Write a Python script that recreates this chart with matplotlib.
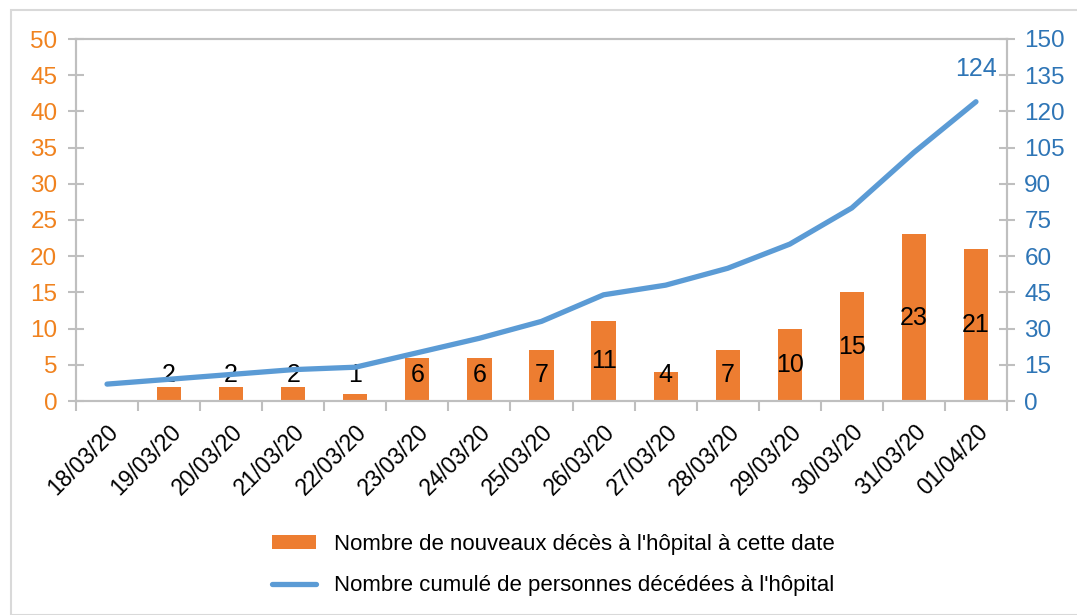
import matplotlib
matplotlib.use("Agg")
import matplotlib.pyplot as plt
from matplotlib.patches import Rectangle
import numpy as np

dates = ["18/03/20", "19/03/20", "20/03/20", "21/03/20", "22/03/20", "23/03/20",
         "24/03/20", "25/03/20", "26/03/20", "27/03/20", "28/03/20", "29/03/20",
         "30/03/20", "31/03/20", "01/04/20"]
new_deaths = [0, 2, 2, 2, 1, 6, 6, 7, 11, 4, 7, 10, 15, 23, 21]
cumulative = [7, 9, 11, 13, 14, 20, 26, 33, 44, 48, 55, 65, 80, 103, 124]
left_ticks = list(range(0, 51, 5))
right_ticks = list(range(0, 151, 15))

bar_label = "Nombre de nouveaux décès à l'hôpital à cette date"
line_label = "Nombre cumulé de personnes décédées à l'hôpital"

FONT = ['Liberation Sans', 'DejaVu Sans']
plt.rcParams['font.family'] = FONT

ORANGE = '#ED7D31'
BLUE = '#5B9BD5'
ORANGE_TXT = '#F0821E'
BLUE_TXT = '#2E75B6'
GRAY = '#BFBFBF'

fig = plt.figure(figsize=(10.77, 6.15), dpi=100)
W, H = 1077, 615
ax = fig.add_axes([76 / W, 1 - 401 / H, (1007 - 76) / W, (401 - 39) / H])
ax2 = ax.twinx()

fig.patches.append(Rectangle((11 / W, 0), 1.0, 1 - 10 / H, transform=fig.transFigure,
                             fill=False, edgecolor='#D9D9D9', linewidth=1.5))

x = np.arange(len(dates))
bars = ax.bar(x, new_deaths, width=0.39, color=ORANGE, zorder=2, label=bar_label)
line, = ax2.plot(x, cumulative, color=BLUE, linewidth=3.8, solid_capstyle='round',
                 zorder=3, label=line_label)

ax.set_xlim(-0.5, len(dates) - 0.5)
ax.set_ylim(0, 50)
ax2.set_ylim(0, 150)
ax.set_yticks(left_ticks)
ax2.set_yticks(right_ticks)

for a in (ax, ax2):
    for s in a.spines.values():
        s.set_color(GRAY)
        s.set_linewidth(1.5)
ax2.set_zorder(ax.get_zorder() + 1)
ax2.patch.set_visible(False)

ax.tick_params(axis='y', direction='inout', length=11, width=1.5, color=GRAY,
               labelcolor=ORANGE_TXT, labelsize=17.5, pad=8)
ax2.tick_params(axis='y', direction='inout', length=11, width=1.5, color=GRAY,
                labelcolor=BLUE_TXT, labelsize=17.5, pad=7)

ax.set_xticks(x)
ax.set_xticklabels(dates, rotation=45, ha='right', rotation_mode='anchor', fontsize=16.5)
ax.set_xticks(np.arange(-0.5, len(dates), 1.0), minor=True)
ax.tick_params(axis='x', which='major', length=0, pad=14)
ax.tick_params(axis='x', which='minor', direction='out', length=7, width=1.5, color=GRAY)

for xi, v in zip(x, new_deaths):
    if v > 0:
        ax.text(xi, max(v / 2, 3.6), str(v), ha='center', va='center', fontsize=18,
                color='black', zorder=5)

ax2.annotate(str(cumulative[-1]), (x[-1], cumulative[-1]), xytext=(0, 15),
             textcoords='offset points', ha='center', va='bottom', fontsize=18,
             color=BLUE_TXT)

fig.legend(handles=[bars, line], labels=[bar_label, line_label], loc='upper center',
           bbox_to_anchor=(553 / W, 1 - 514 / H), frameon=False, fontsize=16,
           handlelength=2.0, handleheight=0.6, handletextpad=0.8, labelspacing=0.9)

fig.savefig('out.png', dpi=100)
